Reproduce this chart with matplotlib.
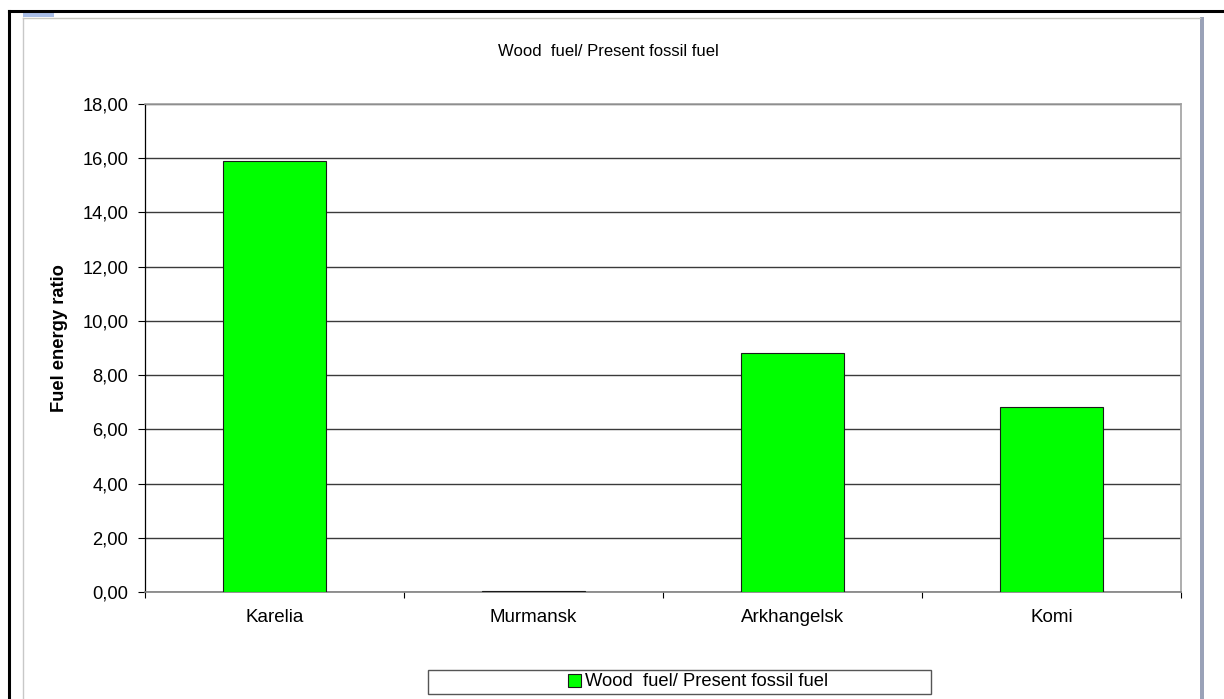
import matplotlib.pyplot as plt
from matplotlib.patches import Rectangle
from matplotlib.lines import Line2D
from matplotlib.ticker import FuncFormatter, MultipleLocator
import numpy as np

plt.rcParams['font.family'] = ['Liberation Sans', 'DejaVu Sans']

regioner = ['Karelia', 'Murmansk', 'Arkhangelsk', 'Komi']
ratio = [15.88, 0.05, 8.82, 6.82]
tittel = 'Wood  fuel/ Present fossil fuel'

W, H = 1224, 699
fig = plt.figure(figsize=(W / 100, H / 100), dpi=100)

def fx(px):
    return px / W

def fy(py):
    return 1 - py / H

# ramme rundt diagrammet (som i Excel-skjermbildet)
fig.add_artist(Line2D([fx(9), fx(1224)], [fy(11), fy(11)], color='black', lw=2.2))
fig.add_artist(Line2D([fx(9), fx(9)], [fy(11), fy(699)], color='black', lw=2.2))
fig.add_artist(Line2D([fx(23), fx(1200)], [fy(17.5), fy(17.5)], color='#c8c8c0', lw=1))
fig.add_artist(Line2D([fx(23), fx(23)], [fy(17.5), fy(699)], color='#c8c8c8', lw=1))
fig.add_artist(Rectangle((fx(1200), 0), fx(4), fy(17), color='#9aa2b8', lw=0))
fig.add_artist(Rectangle((fx(23), fy(17)), fx(31), fy(11) - fy(17), color='#a8bde6', lw=0))

ax = fig.add_axes([fx(145), fy(592), fx(1181) - fx(145), fy(104) - fy(592)])
x = np.arange(len(regioner))
ax.bar(x, ratio, width=0.4, color='#00ff00', edgecolor='#1a1a1a', linewidth=0.8,
       label=tittel, zorder=3)

ax.set_xlim(-0.5, len(regioner) - 0.5)
ax.set_ylim(0, 18)
ax.yaxis.set_major_locator(MultipleLocator(2))
ax.yaxis.set_major_formatter(FuncFormatter(lambda v, p: f'{v:.2f}'.replace('.', ',')))
ax.grid(axis='y', color='#3a3a3a', lw=1, zorder=0)
ax.set_xticks(np.arange(-0.5, len(regioner)), minor=False)
ax.set_xticklabels([''] * (len(regioner) + 1))
ax.set_xticks(x, minor=True)
ax.set_xticklabels(regioner, minor=True, fontsize=13.5)
ax.tick_params(axis='x', which='major', length=4.5, width=0.8, color='black', direction='out')
ax.tick_params(axis='x', which='minor', length=0, pad=12)
ax.tick_params(axis='y', labelsize=13.2, length=5, width=0.8, direction='out', pad=7)

for side in ['top', 'right']:
    ax.spines[side].set_color('#a0a0a0')
    ax.spines[side].set_linewidth(1.2)
ax.spines['bottom'].set_color('#808080')
ax.spines['bottom'].set_linewidth(1.2)
ax.spines['left'].set_color('black')
ax.spines['left'].set_linewidth(0.9)

ax.set_ylabel('Fuel energy ratio', fontsize=13.2, fontweight='bold')
ax.yaxis.set_label_coords(-0.074, 0.52)
fig.text(fx(608), fy(52), tittel, ha='center', va='center', fontsize=12)

# forklaring
fig.add_artist(Rectangle((fx(428), fy(694)), fx(931 - 428), fy(670) - fy(694),
                         facecolor='white', edgecolor='#555555', lw=1))
fig.legend(loc='center', bbox_to_anchor=(fx(698), fy(682)), frameon=False, fontsize=13.2,
           handlelength=0.7, handleheight=0.7, handletextpad=0.25, borderpad=0)

fig.savefig('out.png', dpi=100, facecolor='white')
